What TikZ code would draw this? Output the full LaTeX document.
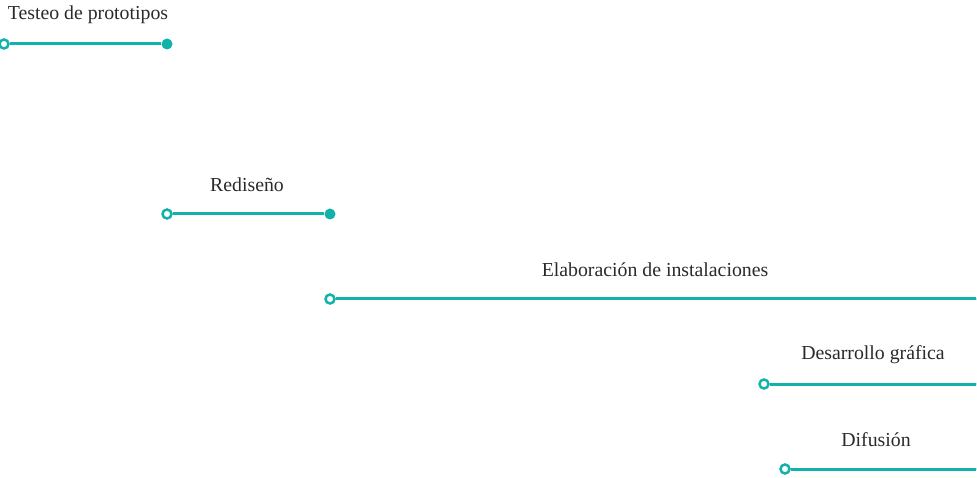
\documentclass[tikz,border=0pt]{standalone}
\usepackage{fontspec}
\setmainfont{Liberation Serif}
\definecolor{teal1}{HTML}{10B2AA}
\definecolor{txt}{HTML}{2A2A2A}
\begin{document}
\begin{tikzpicture}[x=1pt,y=-1pt,
  opendot/.style={circle,draw=teal1,line width=2.5pt,fill=white,inner sep=0pt,minimum size=9pt},
  fulldot/.style={circle,fill=teal1,inner sep=0pt,minimum size=11pt},
  bar/.style={draw=teal1,line width=3pt},
  lbl/.style={text=txt,font=\fontsize{19.8}{22}\selectfont,inner sep=0pt}]
\useasboundingbox (0,0) rectangle (977,478);
\clip (0,0) rectangle (977,478);
% Testeo
\node[opendot] (a1) at (4,44) {};
\node[fulldot] (a2) at (167,44) {};
\draw[bar] (a1) -- (a2);
\node[lbl] (t1) at (88,15) {Testeo de prototipos};
% Rediseño
\node[opendot] (b1) at (167,214) {};
\node[fulldot] (b2) at (330,214) {};
\draw[bar] (b1) -- (b2);
\node[lbl] (t2) at (247,185) {Rediseño};
% Elaboración
\node[opendot] (c1) at (330,299) {};
\node[fulldot] (c2) at (982,299) {};
\draw[bar] (c1) -- (c2);
\node[lbl] (t3) at (655,270) {Elaboración de instalaciones};
% Desarrollo
\node[opendot] (d1) at (764,384) {};
\node[fulldot] (d2) at (982,384) {};
\draw[bar] (d1) -- (d2);
\node[lbl] (t4) at (873,355) {Desarrollo gráfica};
% Difusión
\node[opendot] (e1) at (785,469) {};
\node[fulldot] (e2) at (982,469) {};
\draw[bar] (e1) -- (e2);
\node[lbl] (t5) at (876,440) {Difusión};
\end{tikzpicture}
\end{document}
